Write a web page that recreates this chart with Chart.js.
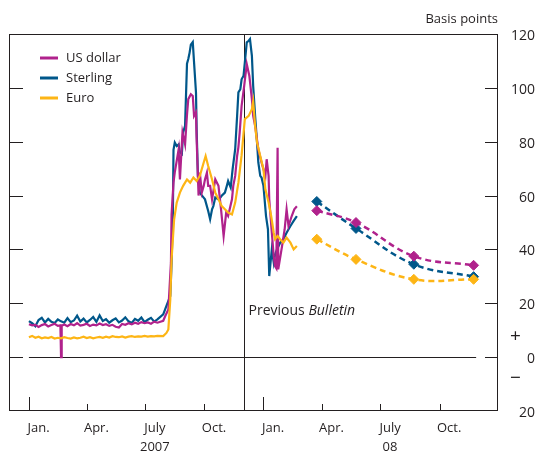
<!DOCTYPE html>
<html>
<head>
<meta charset="utf-8">
<script src="https://cdn.jsdelivr.net/npm/chart.js@4.4.1/dist/chart.umd.min.js"></script>
<style>
  html, body { margin: 0; padding: 0; background: #fff; }
</style>
</head>
<body>
<canvas id="spreadChart" width="535" height="452"></canvas>
<script>
// x values are days counted from 1 Jan 2007
const axisStart = -31;   // 1 Dec 2006
const axisEnd = 730;     // end Dec 2008
const monthStarts = [0, 90, 181, 273, 365, 456, 547, 639];
const yearStarts = [0, 365];
const labelDays = [15, 105, 196, 288, 380, 471, 562, 654];
const xLabels = ['Jan.', 'Apr.', ['July', '2007'], 'Oct.', 'Jan.', 'Apr.', ['July', '08'], 'Oct.'];
const bulletinDay = 334;
const zeroLineDays = [0, 696];

// US dollar spread, daily history
const usdDays = [0, 5, 10, 15, 20, 25, 30, 35, 40, 45, 49, 50, 51, 55, 60, 65, 70, 75, 80, 85, 90, 95, 100, 105, 110, 115, 120, 125, 130, 135, 140, 145, 150, 155, 160, 165, 170, 175, 180, 185, 190, 195, 200,
  209, 212, 217, 221, 222, 225, 227, 233, 235, 239, 243, 246, 248, 252, 255, 257, 260, 261, 264, 266, 269, 272, 274, 277, 279, 282, 285, 290, 295, 299, 303, 307, 310, 316, 318, 321, 324, 326, 328, 331, 335, 339, 343, 347, 349, 352, 357, 362, 368, 370, 373, 374, 378, 381, 383, 385, 387, 388, 394, 398, 401, 404, 409, 413, 417];
const usdValues = [12.2, 11.8, 12.0, 11.2, 11.9, 12.3, 11.4, 11.9, 12.4, 11.6, 11.8, 0, 11.7, 12.1, 11.5, 12.3, 11.8, 12.6, 11.7, 12.0, 12.4, 11.6, 12.1, 11.8, 12.5, 11.9, 12.2, 11.6, 12.0, 11.3, 11.0, 12.3, 12.0, 12.6, 12.2, 12.8, 12.4, 13.0, 12.6, 12.9, 12.4, 13.2, 12.8,
  13.5, 15.2, 17.7, 35, 53, 64.8, 68.6, 77.2, 66, 83.4, 79, 90, 95.8, 97.6, 97, 89.6, 90.9, 80.9, 60, 68.5, 61.1, 63.6, 66, 68.5, 63.6, 63.6, 58.6, 66, 63.6, 54.9, 45, 53.7, 52.4, 58.6, 63.6, 67.3, 74.7, 78, 83.4, 93.3, 100.7, 108.8, 104.5, 95.8, 89.6, 85.9, 77.2, 72.3, 67.3, 73.5, 67.3, 58.6, 46.2, 37.5, 33.8, 33, 77.8, 32.6, 41.3, 47.5, 54.9, 48.7, 52.4, 54.9, 56];

// Sterling spread, daily history
const gbpDays = [0, 5, 10, 15, 20, 25, 30, 35, 40, 45, 50, 55, 60, 65, 70, 75, 80, 85, 90, 95, 100, 105, 110, 115, 120, 125, 130, 135, 140, 145, 150, 155, 160, 165, 170, 175, 180, 185, 190, 195, 200,
  209, 214, 220, 222, 224, 225, 227, 230, 233, 235, 238, 240, 243, 246, 248, 250, 252, 255, 257, 260, 261, 263, 266, 271, 274, 279, 282, 285, 287, 290, 295, 298, 300, 305, 308, 310, 314, 317, 321, 324, 326, 329, 331, 334, 336, 339, 342, 344, 347, 349, 352, 355, 357, 360, 362, 365, 369, 372, 374, 378, 381, 383, 386, 391, 396, 401, 407, 412, 417];
const gbpValues = [13.4, 12.6, 11.5, 13.8, 14.6, 12.9, 14.2, 13.1, 12.7, 14.0, 13.3, 12.8, 14.5, 13.0, 13.6, 15.4, 13.2, 14.3, 12.9, 13.8, 14.9, 13.1, 15.5, 13.4, 14.1, 12.8, 13.7, 14.4, 12.9, 13.6, 14.8, 13.3, 12.7, 14.2, 13.5, 14.7, 13.0, 13.9, 14.6, 13.2, 14.0,
  15.9, 19, 22.7, 35, 52, 77, 79.7, 78.4, 79, 76, 75.4, 83.4, 85.9, 109, 110.7, 113, 116, 117, 109.4, 98.3, 84.6, 67.3, 61, 59.5, 58.6, 54.3, 51.2, 54.9, 56.1, 59.3, 58.6, 59.3, 59.9, 61.1, 63.6, 65.4, 63, 69.8, 77.2, 89.6, 98.3, 99.5, 103.2, 104.5, 109.4, 116.9, 117.5, 118.1, 111.9, 100.7, 89.6, 79.7, 72.3, 67.3, 66.7, 63.6, 52.4, 47.5, 30.1, 40, 35.1, 38, 40, 42.5, 43.8, 46.2, 48.7, 50.6, 52.4];

// Euro spread, daily history
const eurDays = [0, 5, 10, 15, 20, 25, 30, 35, 40, 45, 50, 55, 60, 65, 70, 75, 80, 85, 90, 95, 100, 105, 110, 115, 120, 125, 130, 135, 140, 145, 150, 155, 160, 165, 170, 175, 180, 185, 190, 195, 200,
  209, 214, 217, 220, 222, 226, 230, 235, 240, 246, 251, 256, 261, 266, 272, 275, 279, 285, 290, 295, 300, 305, 310, 316, 321, 326, 331, 336, 342, 347, 349, 352, 355, 360, 365, 368, 373, 377, 381, 383, 387, 391, 396, 401, 407, 412, 417];
const eurValues = [7.4, 7.9, 7.2, 7.6, 7.0, 7.3, 7.1, 7.5, 6.9, 7.2, 7.0, 7.4, 7.1, 6.9, 7.3, 7.0, 7.2, 7.6, 7.1, 7.4, 7.0, 7.3, 7.5, 7.2, 7.6, 7.3, 7.8, 7.5, 7.4, 7.7, 7.3, 7.6, 7.8, 7.5, 7.7, 7.6, 7.9, 7.6, 7.8, 7.7, 7.9,
  7.8, 9, 10.3, 21.4, 36.3, 51.2, 57.4, 61.1, 63.6, 66, 64.8, 66.7, 65.4, 67.3, 72.3, 74.7, 71, 66, 61.1, 58.6, 56.1, 54.9, 53.7, 53, 57.4, 64.8, 75, 88.4, 89.6, 92.1, 95, 85.9, 79.7, 74.7, 69.8, 62.3, 57.4, 52.4, 46.2, 43.8, 45, 43.8, 42.5, 44.4, 42.5, 40, 41.3];

// implied forward spreads
const forwardDays = [448, 509, 599, 692];
const usdForward = [54.4, 50, 37.5, 34.1];
const gbpForward = [57.8, 47.8, 34.5, 29.9];
const eurForward = [43.8, 36.3, 28.9, 28.9];

const seriesNames = ['US dollar', 'Sterling', 'Euro'];
const seriesColors = ['#b0228c', '#00578a', '#fdb515'];

const ink = '#231f20';
const fontFamily = "'Open Sans', 'Noto Sans', sans-serif";

function toPoints(days, values) {
  return days.map((d, i) => ({ x: d, y: values[i] }));
}

function spotSet(i, days, values, order) {
  return {
    label: seriesNames[i],
    data: toPoints(days, values),
    borderColor: seriesColors[i],
    borderWidth: 2.2,
    pointRadius: 0,
    tension: 0,
    order: order
  };
}

function forwardSet(i, values, order) {
  return {
    label: seriesNames[i] + ' forward',
    data: toPoints(forwardDays, values),
    borderColor: seriesColors[i],
    backgroundColor: seriesColors[i],
    borderWidth: 2.5,
    borderDash: [6, 4],
    pointStyle: 'rectRot',
    pointRadius: 5,
    pointBorderWidth: 1,
    tension: 0.4,
    order: order
  };
}

// tick marks point into the plot, legend and notes drawn by hand
const decor = {
  id: 'decor',
  beforeDatasetsDraw(chart) {
    const { ctx, chartArea: a, scales: { x, y } } = chart;
    ctx.save();
    ctx.strokeStyle = ink;
    ctx.lineWidth = 1;
    ctx.beginPath();
    const y0 = Math.round(y.getPixelForValue(0)) + 0.5;
    ctx.moveTo(x.getPixelForValue(zeroLineDays[0]), y0);
    ctx.lineTo(x.getPixelForValue(zeroLineDays[1]), y0);
    const xb = Math.round(x.getPixelForValue(bulletinDay)) + 0.5;
    ctx.moveTo(xb, a.top);
    ctx.lineTo(xb, a.bottom);
    monthStarts.forEach(d => {
      const px = Math.round(x.getPixelForValue(d)) + 0.5;
      ctx.moveTo(px, a.bottom);
      ctx.lineTo(px, a.bottom - (yearStarts.includes(d) ? 14 : 7));
    });
    for (let v = 0; v <= 100; v += 20) {
      const py = Math.round(y.getPixelForValue(v)) + 0.5;
      ctx.moveTo(a.left, py);
      ctx.lineTo(a.left + 14, py);
      ctx.moveTo(a.right - 13, py);
      ctx.lineTo(a.right, py);
    }
    ctx.stroke();
    ctx.strokeRect(a.left + 0.5, a.top + 0.5, a.width - 1, a.height - 1);
    ctx.restore();
  },
  afterDatasetsDraw(chart) {
    const { ctx, chartArea: a, scales: { x, y } } = chart;
    ctx.save();
    ctx.fillStyle = ink;
    ctx.font = '13px ' + fontFamily;
    ctx.textBaseline = 'middle';

    // legend
    seriesNames.forEach((name, i) => {
      const ly = 58 + i * 20;
      ctx.strokeStyle = seriesColors[i];
      ctx.lineWidth = 3;
      ctx.beginPath();
      ctx.moveTo(40, ly);
      ctx.lineTo(58, ly);
      ctx.stroke();
      ctx.textAlign = 'left';
      ctx.fillText(name, 66, ly);
    });

    // previous Bulletin note
    const tx = x.getPixelForValue(bulletinDay) + 5;
    const ty = y.getPixelForValue(17);
    ctx.font = '14px ' + fontFamily;
    ctx.textAlign = 'left';
    ctx.fillText('Previous ', tx, ty);
    const w = ctx.measureText('Previous ').width;
    ctx.font = 'italic 14px ' + fontFamily;
    ctx.fillText('Bulletin', tx + w, ty);

    // units and sign marks
    ctx.font = '13px ' + fontFamily;
    ctx.textAlign = 'right';
    ctx.fillText('Basis points', a.right, 19);
    ctx.textAlign = 'center';
    ctx.font = '19px ' + fontFamily;
    ctx.fillText('+', a.right + 17.5, y.getPixelForValue(7.7));
    ctx.fillText('\u2212', a.right + 17.5, y.getPixelForValue(-7.9));
    ctx.restore();
  }
};

const ctx = document.getElementById('spreadChart').getContext('2d');

const chart = new Chart(ctx, {
  type: 'line',
  data: {
    datasets: [
      spotSet(0, usdDays, usdValues, 1),
      spotSet(1, gbpDays, gbpValues, 2),
      spotSet(2, eurDays, eurValues, 0),
      forwardSet(0, usdForward, 1),
      forwardSet(1, gbpForward, 2),
      forwardSet(2, eurForward, 0)
    ]
  },
  options: {
    responsive: false,
    animation: false,
    layout: { padding: { left: 9, top: 34, right: 0, bottom: 0 } },
    plugins: {
      legend: { display: false },
      tooltip: { enabled: false }
    },
    scales: {
      x: {
        type: 'linear',
        min: axisStart,
        max: axisEnd,
        afterBuildTicks: s => { s.ticks = labelDays.map(v => ({ value: v })); },
        afterFit: s => { s.height = 41; },
        grid: { display: false, drawTicks: false },
        border: { display: false },
        ticks: {
          autoSkip: false,
          maxRotation: 0,
          padding: 8,
          color: ink,
          font: { family: fontFamily, size: 13, lineHeight: 1.45 },
          callback: (v, i) => xLabels[i]
        }
      },
      y: {
        position: 'right',
        min: -20,
        max: 120,
        afterFit: s => { s.width = 37; },
        grid: { display: false, drawTicks: false },
        border: { display: false },
        ticks: {
          stepSize: 20,
          padding: 8,
          labelOffset: 2,
          crossAlign: 'far',
          color: ink,
          font: { family: fontFamily, size: 14 },
          callback: v => Math.abs(v)
        }
      }
    }
  },
  plugins: [decor]
});
</script>
</body>
</html>
